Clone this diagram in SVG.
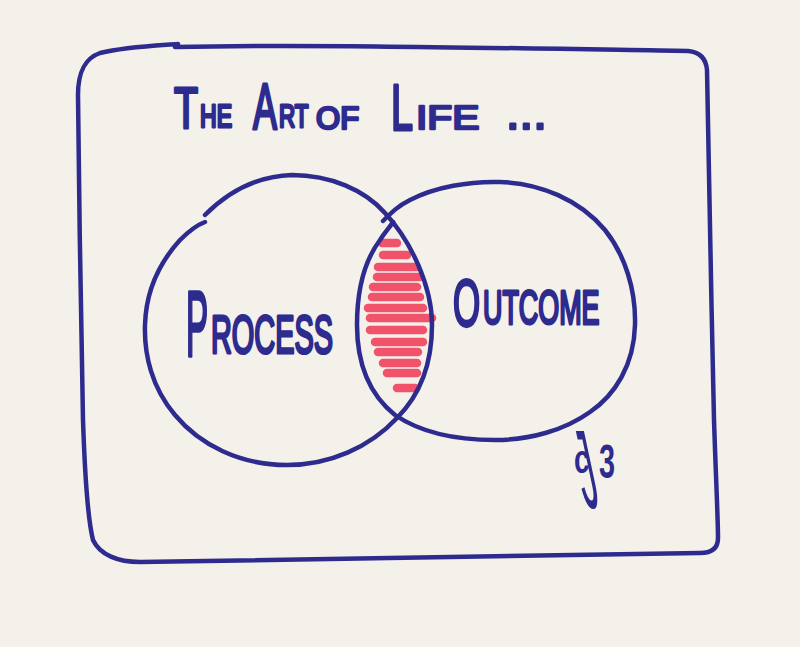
<svg xmlns="http://www.w3.org/2000/svg" width="800" height="647" viewBox="0 0 800 647">
<style>
.ink{fill:none;stroke:#2e2b8e;stroke-width:4.5;stroke-linecap:round;stroke-linejoin:round}
.red{fill:none;stroke:#f0455f;stroke-width:8.5;stroke-linecap:round;opacity:0.92}
.t{fill:#2e2b8e;stroke:#2e2b8e;stroke-width:2.6;stroke-linejoin:round;stroke-linecap:round;vector-effect:non-scaling-stroke;font-family:"Liberation Sans","DejaVu Sans",sans-serif}
.s{fill:#2e2b8e;font-family:"Liberation Sans","DejaVu Sans",sans-serif}
</style>
<rect width="800" height="647" fill="#f4f0ea"/>
<g id="frame">
<path class="ink" d="M175,47 C300,44 500,48 688,51 C700,52 706,58 707,70 C709,150 711,300 714,420 C716,480 718,520 718,538 C718,548 712,553 700,553 C550,556 350,560 140,562 C118,562 100,555 93,540 C88,520 85,480 83,420 C81,320 79,200 78,95 C78,70 86,58 100,53 C125,47 150,46 178,44"/>
</g>
<g id="title">
<text class="t" font-size="58" transform="translate(174,128) scale(0.68,1)">T</text>
<text class="t" font-size="32" transform="translate(200,127) scale(0.72,1)">HE</text>
<text class="t" font-size="64" transform="translate(253,129) scale(0.56,1)">A</text>
<text class="t" font-size="32" transform="translate(279,127) scale(0.7,1)">RT</text>
<text class="t" font-size="32" transform="translate(316,129) scale(0.97,1)">OF</text>
<text class="t" font-size="64" transform="translate(391,130) scale(0.62,1)">L</text>
<text class="t" font-size="34" transform="translate(416,129) scale(1.2,1)">IFE</text>
<text class="t" font-size="48" transform="translate(506,129) scale(1.02,1)">...</text>
</g>
<g id="intersection">
<path class="red" d="M382,243 H397 M383,255 H407 M378,267 H417 M377,277 H420 M373,287 H417 M372,297 H420 M368,308 H423 M370,318 H432 M370,330 H423 M375,342 H423 M378,352 H418 M383,363 H417 M387,373 H417 M397,388 H415"/>
</g>
<g id="process">
<path class="ink" d="M205,215 C230,190 260,176 292,175 C330,175 365,190 385,213 C410,240 432,285 432,325 C432,365 420,395 397,418 C370,447 330,465 287,465 C240,465 200,445 175,415 C152,388 144,355 145,325 C146,290 160,262 180,240 C190,230 197,225 205,222"/>
<text class="t" font-size="92" transform="translate(186,356) scale(0.36,1)">P</text>
<text class="t" font-size="54" transform="translate(211,353) scale(0.535,1)">ROCESS</text>
</g>
<g id="outcome">
<path class="ink" d="M383,221 C392,212 398,206 410,200 C435,187 470,181 500,182 C540,183 580,200 605,230 C625,255 636,290 635,325 C634,365 615,395 590,412 C565,430 530,440 495,440 C455,440 420,432 395,415 C370,395 357,365 357,325 C357,290 365,260 380,240 C385,232 390,227 393,222"/>
<text class="t" font-size="66" transform="translate(453,326) scale(0.53,1)">O</text>
<text class="t" font-size="48" transform="translate(483,324) scale(0.56,1)">UTCOME</text>
</g>
<g id="signature">
<text class="s" font-size="40" font-weight="bold" transform="translate(574,473) scale(0.7,1)">c</text>
<text class="s" font-size="112" transform="translate(585,508) skewX(12) scale(0.32,1)">J</text>
<text class="s" font-size="48" font-weight="bold" transform="translate(599,478) scale(0.6,1)">3</text>
</g>
</svg>
